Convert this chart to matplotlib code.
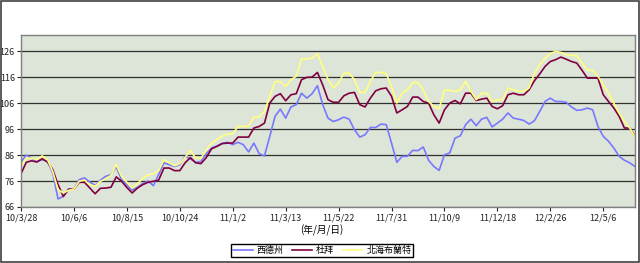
import matplotlib
matplotlib.use("Agg")
import matplotlib.pyplot as plt
from matplotlib.patches import Rectangle

plt.rcParams['font.family'] = ['Noto Sans CJK TC', 'DejaVu Sans']

tick_labels = ['10/3/28', '10/6/6', '10/8/15', '10/10/24', '11/1/2', '11/3/13',
               '11/5/22', '11/7/31', '11/10/9', '11/12/18', '12/2/26', '12/5/6']

wti = [83.3, 86.0, 84.8, 83.6, 84.2, 83.6, 79.1, 69.1, 70.1, 72.7,
       72.9, 76.5, 77.2, 75.6, 74.3, 76.3, 77.8, 78.4, 81.5, 76.5,
       74.5, 72.5, 73.5, 75.0, 76.0, 74.2, 78.5, 83.0, 82.3, 81.6,
       82.3, 85.5, 84.5, 83.2, 83.5, 86.5, 88.7, 89.5, 90.5, 90.9,
       90.0, 90.9, 90.0, 87.2, 90.6, 86.5, 85.7, 93.2, 100.9, 103.7,
       100.2, 104.5, 105.4, 109.8, 107.9, 109.6, 112.7, 105.4, 100.2, 98.9,
       99.6, 100.6, 99.8, 95.7, 92.9, 93.8, 96.6, 96.6, 97.9, 97.7,
       90.6, 83.2, 85.5, 85.5, 87.8, 87.7, 89.1, 84.0, 81.6, 80.1,
       86.1, 86.8, 92.5, 93.4, 97.7, 99.8, 97.3, 99.8, 100.5, 96.8,
       98.3, 99.8, 102.2, 100.2, 99.8, 99.3, 97.9, 99.2, 102.8, 106.6,
       107.9, 106.6, 106.6, 106.3, 104.5, 103.2, 103.4, 104.1, 103.4, 97.0,
       93.2, 91.3, 88.7, 85.5, 84.0, 83.0, 81.6]

dubai = [78.8, 83.2, 83.8, 83.3, 84.6, 83.3, 80.4, 74.6, 70.1, 72.9,
         72.9, 75.5, 75.5, 73.3, 71.1, 73.2, 73.3, 73.6, 77.6, 75.9,
         73.5, 71.4, 73.3, 74.6, 75.5, 75.9, 76.3, 81.0, 81.0, 80.0,
         80.0, 83.0, 85.0, 83.0, 82.7, 85.0, 88.4, 89.3, 90.4, 90.6,
         90.6, 92.9, 92.9, 92.9, 96.4, 97.0, 98.3, 106.0, 108.6, 109.6,
         106.9, 109.2, 109.6, 115.0, 115.9, 116.0, 117.8, 113.0, 107.3, 106.3,
         106.3, 108.8, 109.8, 110.1, 105.4, 104.5, 107.9, 110.7, 111.5, 111.8,
         108.6, 102.2, 103.4, 104.7, 108.3, 108.3, 106.6, 106.0, 101.5, 98.3,
         103.4, 106.0, 107.0, 105.7, 109.8, 109.8, 107.0, 107.5, 107.9, 104.7,
         103.8, 105.0, 109.2, 109.8, 109.2, 109.2, 111.1, 114.6, 117.2, 120.1,
         122.0, 122.7, 123.7, 122.9, 122.0, 121.4, 118.6, 115.6, 115.6, 115.6,
         109.2, 106.6, 104.1, 100.9, 96.4, 96.4, 93.2]

brent = [81.6, 84.8, 84.8, 84.2, 85.7, 84.2, 79.7, 72.7, 71.4, 72.4,
         72.9, 75.9, 76.3, 74.6, 74.0, 75.9, 76.8, 78.1, 82.3, 77.8,
         75.5, 73.3, 75.0, 77.0, 78.4, 78.8, 80.0, 84.2, 83.0, 81.9,
         82.7, 85.0, 87.8, 84.8, 84.8, 88.0, 90.5, 91.9, 93.2, 94.0,
         94.2, 97.0, 97.0, 97.0, 100.6, 100.6, 102.8, 108.6, 114.3, 114.3,
         112.4, 115.0, 116.3, 123.0, 123.0, 123.3, 125.0, 120.1, 115.2, 111.8,
         113.7, 117.5, 117.5, 115.0, 110.1, 110.1, 114.3, 117.8, 117.8, 117.3,
         112.4, 106.0, 109.8, 111.1, 113.9, 113.9, 111.1, 106.6, 104.7, 103.8,
         111.1, 110.9, 110.5, 111.1, 114.3, 110.5, 107.3, 109.8, 109.8, 106.6,
         107.3, 107.3, 111.8, 111.1, 110.5, 110.5, 111.8, 117.5, 120.8, 123.3,
         125.0, 125.9, 125.5, 124.6, 124.4, 124.2, 121.4, 118.6, 118.6, 116.3,
         113.1, 109.8, 106.0, 102.2, 98.9, 96.4, 92.9]

series_names = ['西德州', '杜拜', '北海布蘭特']
series_colors = ['#7878ff', '#800040', '#ffff80']

x = list(range(len(wti)))

fig = plt.figure(figsize=(6.4, 2.63), dpi=100)
fig.patches.append(Rectangle((0.001, 0.002), 0.997, 0.996, transform=fig.transFigure,
                             fill=False, edgecolor='#404040', linewidth=1.2))
ax = fig.add_axes([21 / 640, 1 - 207 / 263, 614 / 640, 172 / 263])
ax.set_facecolor('#dde4d8')

for vals, name, col in zip([wti, dubai, brent], series_names, series_colors):
    ax.plot(x, vals, color=col, linewidth=1.2, label=name)

ax.set_xlim(0, len(wti) - 1)
ax.set_ylim(66, 132.2)
ax.set_yticks(range(66, 127, 10))
ax.set_xticks(range(0, len(wti), 10))
ax.set_xticklabels(tick_labels)
ax.grid(axis='y', color='#303030', linewidth=0.9)
ax.set_axisbelow(True)
ax.tick_params(axis='both', labelsize=6.5, length=3, width=0.8, pad=1.5, colors='#222222')
for s in ax.spines.values():
    s.set_color('#808080')
    s.set_linewidth(1.0)

fig.text(322 / 640, 1 - 230 / 263, '(年/月/日)', ha='center', va='center', fontsize=7)

fig.legend(loc='center', bbox_to_anchor=(322 / 640, 1 - 250.5 / 263), ncol=3,
           fontsize=6.5, frameon=True, fancybox=False, edgecolor='#000000',
           handlelength=2.2, columnspacing=1.0, borderpad=0.25, handletextpad=0.4,
           framealpha=1)

fig.savefig('out.png', dpi=100)
